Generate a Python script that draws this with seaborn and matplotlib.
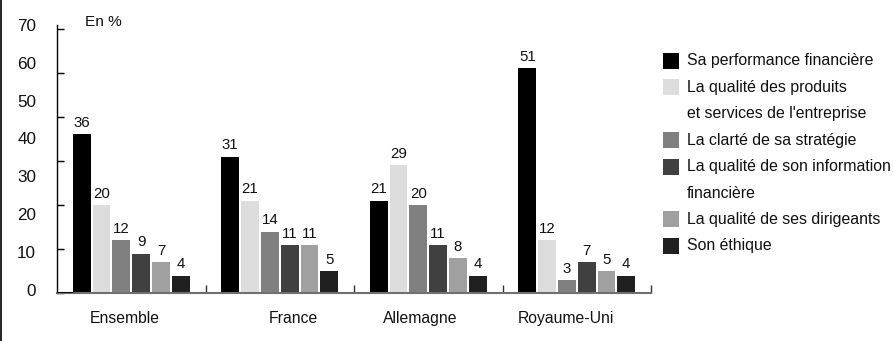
import matplotlib
matplotlib.use("Agg")
import matplotlib.pyplot as plt
from matplotlib.patches import Rectangle
from matplotlib.lines import Line2D
from matplotlib.ticker import MultipleLocator, FixedLocator
import seaborn as sns
import pandas as pd
import numpy as np

# ---- data ----
pays = ["Ensemble", "France", "Allemagne", "Royaume-Uni"]
criteres = [
    "Sa performance financière",
    "La qualité des produits\net services de l'entreprise",
    "La clarté de sa stratégie",
    "La qualité de son information\nfinancière",
    "La qualité de ses dirigeants",
    "Son éthique",
]
perf = [36, 31, 21, 51]
produits = [20, 21, 29, 12]
strategie = [12, 14, 20, 3]
information = [9, 11, 11, 7]
dirigeants = [7, 11, 8, 5]
ethique = [4, 5, 4, 4]
couleurs = ["#000000", "#dddddd", "#808080", "#404040", "#a0a0a0", "#202020"]
ytick_labels = ["0", "10", "20", "30", "40", "50", "60", "70"]
xlabel_offsets = [-0.045, 0.09, -0.055, -0.07]

series = [perf, produits, strategie, information, dirigeants, ethique]
rows = []
for c, vals in zip(criteres, series):
    for p, v in zip(pays, vals):
        rows.append({"pays": p, "critere": c, "valeur": v})
df = pd.DataFrame(rows)

sns.set_theme(style="white")
plt.rcParams["font.family"] = ["Liberation Sans", "DejaVu Sans"]

W, H = 894, 341
fig = plt.figure(figsize=(W / 100, H / 100), dpi=100)
x0, x1, y0, y1 = 57, 651, 293.3, 25
ax = fig.add_axes([x0 / W, 1 - y0 / H, (x1 - x0) / W, (y0 - y1) / H])

sns.barplot(data=df, x="pays", y="valeur", hue="critere", order=pays,
            hue_order=criteres, palette=couleurs, width=0.8, gap=0.1,
            saturation=1, linewidth=0, legend=False, errorbar=None, ax=ax)

ax.set_xlim(-0.5, 3.5)
ax.set_ylim(0, 60)
ax.set_xlabel("")
ax.set_ylabel("")

for s in ["top", "right"]:
    ax.spines[s].set_visible(False)
ax.spines["left"].set_color("black")
ax.spines["left"].set_linewidth(1.0)
ax.spines["bottom"].set_color("#707070")
ax.spines["bottom"].set_linewidth(1.5)

# y ticks: labels evenly spread, marks every 10
ax.set_yticks(np.linspace(0, 60, len(ytick_labels)) + 0.8, ytick_labels)
ax.yaxis.set_minor_locator(MultipleLocator(10))
ax.tick_params(axis="y", which="major", left=True, length=0, pad=15,
               labelsize=12.3, labelcolor="#111111")
ax.tick_params(axis="y", which="minor", left=True, length=5, width=1,
               direction="in", color="black")

# x ticks
ax.set_xticks([i + o for i, o in enumerate(xlabel_offsets)], pays)
ax.xaxis.set_minor_locator(FixedLocator([0.5, 1.5, 2.5, 3.5]))
ax.tick_params(axis="x", which="major", bottom=True, length=0, pad=12.5,
               labelsize=11.3, labelcolor="#111111")
ax.tick_params(axis="x", which="minor", bottom=True, length=6, width=1,
               direction="in", color="#333333")
ax.axhline(0, xmin=0, xmax=15 / (x1 - x0), color="black", lw=2, zorder=5)

for cont in ax.containers:
    ax.bar_label(cont, fmt="%g", padding=3, fontsize=10.8, color="#111111")

ax.text((85 - x0) / (x1 - x0), (y0 - 21.7) / (y0 - y1), "En %",
        transform=ax.transAxes, ha="left", va="center", fontsize=11.1,
        color="#111111")

# left border
fig.add_artist(Line2D([0.8 / W, 0.8 / W], [0, 1], transform=fig.transFigure,
                      color="black", lw=1.2))

# legend drawn manually
row_y = 61.0
step = 26.4
for c, col in zip(criteres, couleurs):
    lines = c.split("\n")
    fig.add_artist(Rectangle((663 / W, 1 - (row_y + 8) / H), 16 / W, 16 / H,
                             transform=fig.transFigure, facecolor=col,
                             edgecolor="none"))
    for ln in lines:
        fig.text(687 / W, 1 - row_y / H, ln, ha="left", va="center",
                 fontsize=11.4, color="#111111")
        row_y += step

fig.savefig("out.png", dpi=100)
